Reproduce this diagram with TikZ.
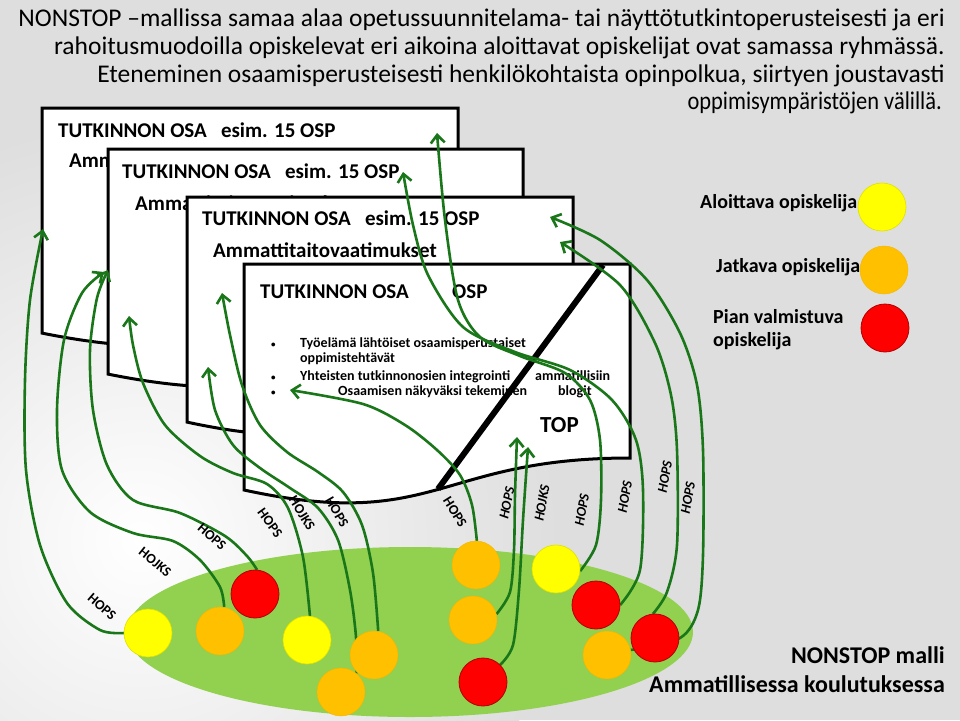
\documentclass[tikz,border=0pt]{standalone}
\usepackage{fontspec}
\setmainfont{Carlito}
\usetikzlibrary{arrows.meta,shapes.geometric}
\definecolor{connc}{RGB}{25,118,25}
\definecolor{ellg}{RGB}{146,208,80}
\definecolor{yel}{RGB}{255,255,0}
\definecolor{ora}{RGB}{255,192,0}
\definecolor{redc}{RGB}{255,0,0}
\definecolor{bggray}{RGB}{222,222,222}
\begin{document}
\begin{tikzpicture}[x=1pt,y=-1pt,
  docline/.style={draw=black,line width=3,fill=white,line join=miter},
  dtitle/.style={anchor=base west,font=\bfseries\fontsize{21}{24}\selectfont,inner sep=0},
  btext/.style={anchor=base west,font=\bfseries\fontsize{14}{16}\selectfont,inner sep=0},
  titleline/.style={anchor=base east,font=\fontsize{25.5}{28}\selectfont,inner sep=0},
  legtext/.style={anchor=base west,font=\bfseries\fontsize{20}{23}\selectfont,inner sep=0},
  conn/.style={draw=connc,line width=2.6,-{Straight Barb[length=8pt,width=14pt]}},
  lab/.style={font=\bfseries\fontsize{14}{16}\selectfont,inner sep=0},
  labi/.style={font=\bfseries\itshape\fontsize{14}{16}\selectfont,inner sep=0},
  stud/.style={circle,minimum size=48,inner sep=0},
  yst/.style={stud,fill=yel,draw=yel!88!black,line width=0.6},
  ost/.style={stud,fill=ora,draw=ora!95!black,line width=0.4},
  rst/.style={stud,fill=redc,draw=red!70!black,line width=0.8}]
\useasboundingbox (0,0) rectangle (960,720);
% background
\fill[bggray] (0,0) rectangle (960,720);
\shade[inner color=white,outer color=bggray] (140,540) circle (420);
% title
\node[titleline] (t1) at (945,26) {NONSTOP –mallissa samaa alaa opetussuunnitelama- tai näyttötutkintoperusteisesti ja eri};
\node[titleline] (t2) at (945,54) {rahoitusmuodoilla opiskelevat eri aikoina aloittavat opiskelijat ovat samassa ryhmässä.};
\node[titleline] (t3) at (945,82) {Eteneminen osaamisperusteisesti henkilökohtaista opinpolkua, siirtyen joustavasti};
\node[titleline] (t4) at (942,109) {\scalebox{0.88}[1]{oppimisympäristöjen välillä.}};
% green area
\fill[ellg] (410,632) ellipse [x radius=283,y radius=85];
% documents
\draw[docline] (42,108) -- (458,108) -- (458,301.3) .. controls (250,301.3) and (250,374.8) .. (42,333.1) -- cycle;
\node[dtitle] (d1a) at (58,137) {TUTKINNON OSA\hspace{0.45em} esim. 15 OSP};
\node[dtitle] (d1b) at (69,167) {Ammattitaitovaatimukset};
\draw[docline] (108,149) -- (523,149) -- (523,342.3) .. controls (315.5,342.3) and (315.5,415.8) .. (108,374.1) -- cycle;
\node[dtitle] (d2a) at (122,178) {TUTKINNON OSA\hspace{0.45em} esim. 15 OSP};
\node[dtitle] (d2b) at (135,210) {Ammattitaitovaatimukset};
\draw[docline] (187,197) -- (573,197) -- (573,390.3) .. controls (380,390.3) and (380,463.8) .. (187,422.1) -- cycle;
\node[dtitle] (d3a) at (202,225) {TUTKINNON OSA\hspace{0.45em} esim. 15 OSP};
\node[dtitle] (d3b) at (213,257) {Ammattitaitovaatimukset};
\draw[docline] (244,264) -- (630,264) -- (630,458) .. controls (437,458) and (437,531.9) .. (244,490) -- cycle;
\draw[line width=6,black] (603,265) -- (438,489);
\node[dtitle] (d4a) at (260,298) {TUTKINNON OSA};
\node[dtitle] (d4b) at (452,298) {OSP};
\node[btext] (b1) at (271,347) {\fontsize{9}{10}\selectfont •};
\node[btext] (b2) at (271,380) {\fontsize{9}{10}\selectfont •};
\node[btext] (b3) at (271,395) {\fontsize{9}{10}\selectfont •};
\node[btext] (i1) at (300,347) {Työelämä lähtöiset osaamisperustaiset};
\node[btext] (i2) at (300,362) {oppimistehtävät};
\node[btext] (i3) at (300,380) {Yhteisten tutkinnonosien integrointi};
\node[btext] (i3b) at (535,380) {ammatillisiin};
\node[btext] (i4) at (338,395) {Osaamisen näkyväksi tekeminen};
\node[btext] (i4b) at (558,395) {blogit};
\node[anchor=base west,font=\bfseries\fontsize{23}{26}\selectfont,inner sep=0] (top) at (540,432) {TOP};
% circle positions
\path (148,633) coordinate (py1) (220,631) coordinate (po1) (255,594) coordinate (pr1)
      (307,640) coordinate (py2) (374,655) coordinate (po2) (341,692) coordinate (po3)
      (476,565) coordinate (po4) (473,620) coordinate (po5) (483,682) coordinate (pr5)
      (556,569) coordinate (py3) (596,605) coordinate (pr3) (607,655) coordinate (po6)
      (655,638) coordinate (pr4);
% arrow targets
\coordinate (a1) at (43,229);
\coordinate (a2) at (104,272);
\coordinate (a3) at (108,270);
\coordinate (a4) at (129,316);
\coordinate (a5) at (208,367);
\coordinate (a6) at (222,293);
\coordinate (a7) at (437,133);
\coordinate (a8) at (403,172);
\coordinate (a9) at (550,217);
\coordinate (a10) at (560,242);
\coordinate (a11) at (290,390);
\coordinate (a12) at (517,437);
\coordinate (a13) at (528,447);
% invisible circle nodes for anchors
\node[stud] (y1) at (py1) {};
\node[stud] (o1) at (po1) {};
\node[stud] (r1) at (pr1) {};
\node[stud] (y2) at (py2) {};
\node[stud] (o2) at (po2) {};
\node[stud] (o3) at (po3) {};
\node[stud] (o4) at (po4) {};
\node[stud] (o5) at (po5) {};
\node[stud] (r5) at (pr5) {};
\node[stud] (y3) at (py3) {};
\node[stud] (r3) at (pr3) {};
\node[stud] (o6) at (po6) {};
\node[stud] (r4) at (pr4) {};
% connectors
\draw[conn] plot[smooth] coordinates {(y1.west) (100,630) (67,603) (40,545) (26,470) (25,380) (30,300) (a1)};
\draw[conn] plot[smooth] coordinates {(o1.80) (220,587) (200,560) (173,541) (133,533) (90,512) (62,470) (57,410) (64,340) (82,293) (a2)};
\draw[conn] plot[smooth] coordinates {(r1.85) (247,556) (225,536) (180,513) (133,500) (107,465) (93,410) (90,350) (97,298) (a3)};
\draw[conn] plot[smooth] coordinates {(y2.83) (303,557) (288,508) (267,484) (233,473) (200,456) (165,425) (143,383) (133,345) (a4)};
\draw[conn] plot[smooth] coordinates {(o3.50) (356,637) (350,590) (338,540) (318,508) (290,488) (260,468) (233,445) (215,410) (a5)};
\draw[conn] plot[smooth] coordinates {(o2.80) (373,573) (362,525) (343,492) (318,472) (287,452) (260,425) (242,385) (230,335) (a6)};
\draw[conn] plot[smooth] coordinates {(o4.88) (472,505) (460,475) (437,450) (405,425) (363,404) (a11)};
\draw[conn] plot[smooth] coordinates {(o5.14) (510,592) (514,550) (515,495) (a12)};
\draw[conn] plot[smooth] coordinates {(r5.45) (513,645) (519,590) (523,520) (a13)};
\draw[conn] plot[smooth] coordinates {(y3.355) (596,545) (601,500) (600,440) (590,400) (565,373) (520,356) (480,337) (458,300) (445,220) (a7)};
\draw[conn] plot[smooth] coordinates {(r3.0) (640,570) (643,490) (636,440) (612,400) (570,370) (515,352) (463,327) (428,275) (413,225) (a8)};
\draw[conn] plot[smooth] coordinates {(o6.12) (680,638) (698,610) (703,555) (703,450) (697,385) (680,333) (647,280) (600,240) (a9)};
\draw[conn] plot[smooth] coordinates {(r4.95) (667,592) (677,545) (677,450) (671,395) (655,343) (620,285) (a10)};
% visible circles
\node[yst] (cy1) at (py1) {};
\node[ost] (co1) at (po1) {};
\node[rst] (cr1) at (pr1) {};
\node[yst] (cy2) at (py2) {};
\node[ost] (co2) at (po2) {};
\node[ost] (co3) at (po3) {};
\node[ost] (co4) at (po4) {};
\node[ost] (co5) at (po5) {};
\node[rst] (cr5) at (pr5) {};
\node[yst] (cy3) at (py3) {};
\node[rst] (cr3) at (pr3) {};
\node[ost] (co6) at (po6) {};
\node[rst] (cr4) at (pr4) {};
% labels
\node[lab,rotate=-41] (l1) at (102,607) {HOPS};
\node[lab,rotate=-39] (l2) at (155,562) {HOJKS};
\node[lab,rotate=-41] (l3) at (212,537) {HOPS};
\node[lab,rotate=-54] (l4) at (270,523) {HOPS};
\node[lab,rotate=-58] (l5) at (302,513) {HOJKS};
\node[lab,rotate=-60] (l6) at (337,512) {HOPS};
\node[lab,rotate=-58] (l7) at (455,512) {HOPS};
\node[labi,rotate=78] (l8) at (507,503) {HOPS};
\node[labi,rotate=80] (l9) at (542,503) {HOJKS};
\node[labi,rotate=80] (l10) at (582,510) {HOPS};
\node[labi,rotate=80] (l11) at (625,497) {HOPS};
\node[labi,rotate=80] (l12) at (665,477) {HOPS};
\node[labi,rotate=80] (l13) at (688,498) {HOPS};
% legend
\node[legtext] (g1) at (700,208) {Aloittava opiskelija};
\node[legtext] (g2) at (716,272) {Jatkava opiskelija};
\node[legtext] (g3) at (713,323) {Pian valmistuva};
\node[legtext] (g4) at (713,346) {opiskelija};
\node[yst] (gy) at (882,207) {};
\node[ost] (go) at (884,270) {};
\node[rst] (gr) at (885,328) {};
% bottom right
\node[anchor=base east,font=\bfseries\fontsize{24}{27}\selectfont,inner sep=0] (m1) at (945,663) {NONSTOP malli};
\node[anchor=base east,font=\bfseries\fontsize{24}{27}\selectfont,inner sep=0] (m2) at (945,692) {Ammatillisessa koulutuksessa};
\end{tikzpicture}
\end{document}
